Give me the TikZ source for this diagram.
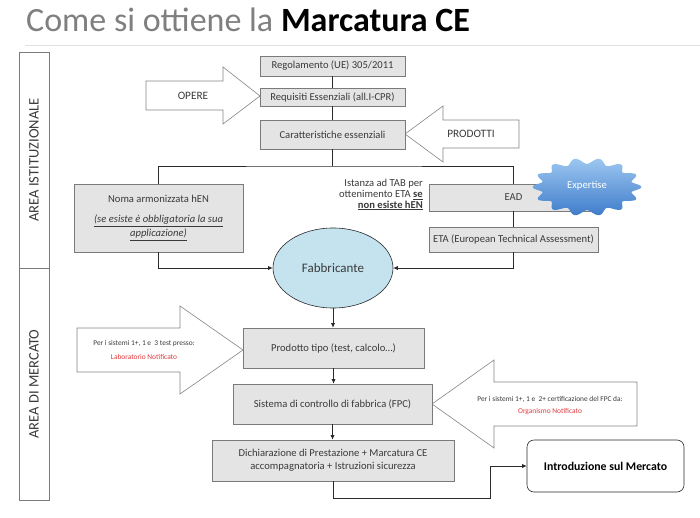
\documentclass[tikz,border=0pt]{standalone}
\usepackage{fontspec}
\setmainfont{Carlito}
\usetikzlibrary{arrows.meta,shapes.geometric}
\definecolor{boxfill}{HTML}{E4E4E4}
\definecolor{boxline}{HTML}{7A7A7A}
\definecolor{txt}{HTML}{3A3A3A}
\definecolor{lk}{HTML}{2A2A2A}
\definecolor{arrline}{HTML}{858585}
\definecolor{fabfill}{HTML}{C4E3EE}
\definecolor{redtxt}{HTML}{E03A3E}
\definecolor{titlegray}{HTML}{7F7F7F}
\definecolor{expTop}{HTML}{9CC6F0}
\definecolor{expBot}{HTML}{3F7DCB}
\begin{document}
\begin{tikzpicture}[x=1pt,y=-1pt,
  box/.style={draw=boxline, fill=boxfill, line width=0.6pt, font=\fontsize{10.6}{13}\selectfont, text=txt, align=center, inner sep=0pt},
  conn/.style={draw=lk, line width=0.6pt},
  arr/.style={conn, -{Latex[length=4.5pt,width=4pt]}},
  bigarrow/.style={draw=arrline, fill=white, line width=0.6pt, line join=miter},
  lbl/.style={font=\fontsize{11.3}{13}\selectfont, text=txt},
  small/.style={font=\fontsize{7.4}{9}\selectfont, text=txt},
  side/.style={draw=boxline, line width=0.6pt, fill=white}]
\useasboundingbox (0,0) rectangle (700,518);

% title
\node[anchor=base west, inner sep=0pt, font=\fontsize{34}{38}\selectfont, text=titlegray] (title) at (26,32) {Come si ottiene la \textcolor{black}{\bfseries Marcatura CE}};
\draw[draw=black!12, line width=0.8pt] (25,45) -- (700,45);

% side columns
\node[side, minimum width=30pt, minimum height=216pt, inner sep=0pt] (areaI) at (34,160) {};
\node[side, minimum width=30pt, minimum height=232pt, inner sep=0pt] (areaM) at (34,384) {};
\node[rotate=90, font=\fontsize{14.5}{17}\selectfont, text=txt] (areaIt) at (areaI.center) {AREA ISTITUZIONALE};
\node[rotate=90, font=\fontsize{14.5}{17}\selectfont, text=txt] (areaMt) at (areaM.center) {AREA DI MERCATO};

% big arrows
\draw[bigarrow] (146,81) -- (223,81) -- (223,67) -- (260,96) -- (223,124) -- (223,110) -- (146,110) -- cycle;
\node[lbl] (opere) at (193,96) {OPERE};
\draw[bigarrow] (519,120) -- (443,120) -- (443,106) -- (405,134) -- (443,162) -- (443,148) -- (519,148) -- cycle;
\node[lbl] (prodotti) at (471,134) {PRODOTTI};
\draw[bigarrow] (77,328) -- (180,328) -- (180,306) -- (243,350) -- (180,394) -- (180,372) -- (77,372) -- cycle;
\node[small] (lab1) at (144,344) {Per i sistemi 1+, 1 e\ \ 3 test presso:};
\node[small, text=redtxt] (lab2) at (144,357) {Laboratorio Notificato};
\draw[bigarrow] (637,382) -- (494,382) -- (494,360) -- (432,404) -- (494,448) -- (494,426) -- (637,426) -- cycle;
\node[small] (org1) at (550,399) {Per i sistemi 1+, 1 e\ \ 2+ certificazione del FPC da:};
\node[small, text=redtxt] (org2) at (550,412) {Organismo Notificato};

% top chain
\node[box, minimum width=145pt, minimum height=20pt] (reg) at (332.5,66) {Regolamento (UE) 305/2011};
\node[box, minimum width=145pt, minimum height=18pt] (req) at (332.5,97) {Requisiti Essenziali (all.I-CPR)};
\node[box, minimum width=145pt, minimum height=29pt] (car) at (332.5,134.5) {Caratteristiche essenziali};
\draw[conn] (reg) -- (req);
\draw[conn] (req) -- (car);

% branches
\node[box, minimum width=169pt, minimum height=68pt] (noma) at (158.5,218) {Noma armonizzata hEN\\[7pt]\itshape\underline{(se esiste è obbligatoria la sua}\\[1pt]\itshape\underline{applicazione)}};
\node[box, minimum width=169pt, minimum height=27pt] (ead) at (513.5,197.5) {EAD};
\node[box, minimum width=169pt, minimum height=25pt] (eta) at (513.5,239.5) {ETA (European Technical Assessment)};
\coordinate (brC) at (332.5,166);
\draw[conn] (car.south) -- (brC);
\draw[conn] (noma.north) |- (brC) -| (ead.north);
\draw[conn] (ead) -- (eta);
\node[anchor=north east, align=right, inner sep=0pt, text=txt, font=\fontsize{10.6}{10.8}\selectfont] (ist) at (423,179) {Istanza ad TAB per\\ottenimento ETA \underline{\bfseries se}\\\underline{\bfseries non esiste hEN}};

% expertise seal
\shade[top color=expTop, bottom color=expBot, draw=none]
  plot[domain=0:360, samples=241, variable=\t, smooth] ({587+50*(1+0.085*cos(14*\t))*cos(\t)}, {187+26*(1+0.11*cos(14*\t))*sin(\t)}) -- cycle;
\node[font=\fontsize{10.6}{12}\selectfont, text=white] (exp) at (587,186) {Expertise};

% fabbricante
\node[ellipse, draw=lk, line width=0.6pt, fill=fabfill, minimum width=120pt, minimum height=80pt, inner sep=0pt, font=\fontsize{13}{15}\selectfont, text=txt] (fab) at (333,268) {Fabbricante};
\draw[arr] (noma.south) |- (fab.west);
\draw[arr] (eta.south) |- (fab.east);

% lower chain
\node[box, minimum width=181pt, minimum height=40pt] (prod) at (333.5,348) {Prodotto tipo (test, calcolo…)};
\node[box, minimum width=199pt, minimum height=40pt] (sis) at (332.5,404) {Sistema di controllo di fabbrica (FPC)};
\node[box, minimum width=242pt, minimum height=41pt] (dich) at (333,460.5) {Dichiarazione di Prestazione + Marcatura CE\\accompagnatoria + Istruzioni sicurezza};
\node[draw=lk, line width=0.6pt, fill=white, rounded corners=7pt, minimum width=157pt, minimum height=52pt, inner sep=0pt, font=\fontsize{11.8}{14}\selectfont\bfseries, text=black] (intro) at (605.5,466) {Introduzione sul Mercato};
\draw[arr] (fab.south) -- (fab.south |- prod.north);
\draw[arr] (prod.south) -- (prod.south |- sis.north);
\draw[arr] (sis.south) -- (sis.south |- dich.north);
\coordinate (k1) at (490,498);
\draw[arr] (dich.south) |- (k1) |- (intro.west);
\end{tikzpicture}
\end{document}
